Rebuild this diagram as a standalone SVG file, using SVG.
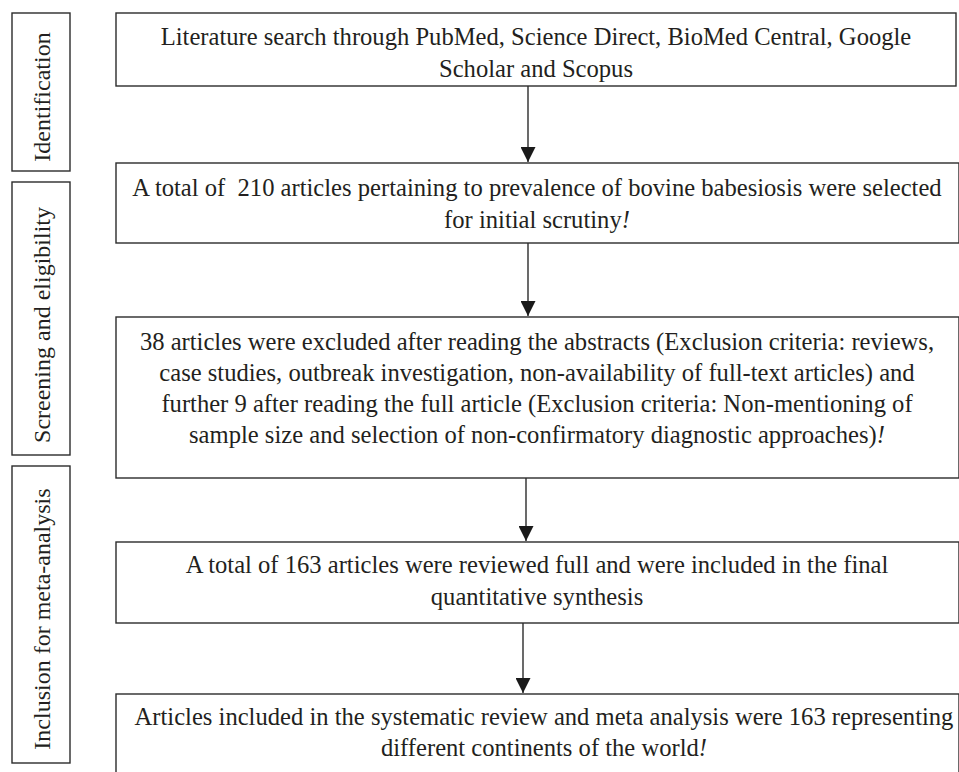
<svg xmlns="http://www.w3.org/2000/svg" width="959" height="772" viewBox="0 0 959 772">
<style>
.box{fill:#fff;stroke:#2b2b2b;stroke-width:1.4}
.t{font-family:"Liberation Serif","Times New Roman",serif;font-size:24.6px;fill:#231f20;text-anchor:middle}
.v{font-size:24px}
.c{stroke:#2b2b2b;stroke-width:1.4;fill:none}
.i{font-style:italic}
</style>
<defs>
<marker id="ah" markerWidth="16" markerHeight="15" refX="15" refY="7.5" orient="auto" markerUnits="userSpaceOnUse">
<path d="M0,0 L15,7.5 L0,15 Z" fill="#1a1a1a"/>
</marker>
</defs>
<rect width="959" height="772" fill="#fff"/>
<g id="stage-identification">
<rect class="box" x="12" y="13" width="58" height="158"/>
<text class="t v" transform="translate(50,97) rotate(-90)">Identification</text>
</g>
<g id="stage-screening">
<rect class="box" x="12" y="182" width="58" height="273"/>
<text class="t v" transform="translate(50,325) rotate(-90)">Screening and eligibility</text>
</g>
<g id="stage-inclusion">
<rect class="box" x="12" y="466" width="58" height="297"/>
<text class="t v" transform="translate(50,619) rotate(-90)">Inclusion for meta-analysis</text>
</g>
<g id="node-search">
<rect class="box" x="116" y="13" width="840" height="73"/>
<text class="t" x="536" y="45">Literature search through PubMed, Science Direct, BioMed Central, Google</text>
<text class="t" x="536" y="77">Scholar and Scopus</text>
</g>
<g id="node-selected">
<rect class="box" x="116" y="163" width="843" height="80"/>
<text class="t" x="537" y="196">A total of &#160;210 articles pertaining to prevalence of bovine babesiosis were selected</text>
<text class="t" x="537" y="228">for initial scrutiny<tspan class="i">!</tspan></text>
</g>
<g id="node-excluded">
<rect class="box" x="116" y="317" width="843" height="161"/>
<text class="t" x="537" y="350">38 articles were excluded after reading the abstracts (Exclusion criteria: reviews,</text>
<text class="t" x="537" y="381">case studies, outbreak investigation, non-availability of full-text articles) and</text>
<text class="t" x="537" y="412">further 9 after reading the full article (Exclusion criteria: Non-mentioning of</text>
<text class="t" x="537" y="443">sample size and selection of non-confirmatory diagnostic approaches)<tspan class="i">!</tspan></text>
</g>
<g id="node-reviewed">
<rect class="box" x="116" y="542" width="843" height="81"/>
<text class="t" x="537" y="573">A total of 163 articles were reviewed full and were included in the final</text>
<text class="t" x="537" y="605">quantitative synthesis</text>
</g>
<g id="node-included">
<rect class="box" x="116" y="694" width="843" height="90"/>
<text class="t" x="544" y="725">Articles included in the systematic review and meta analysis were 163 representing</text>
<text class="t" x="544" y="756">different continents of the world<tspan class="i">!</tspan></text>
</g>
<g id="connectors">
<line class="c" x1="528" y1="86" x2="528" y2="162" marker-end="url(#ah)"/>
<line class="c" x1="528" y1="243" x2="528" y2="316" marker-end="url(#ah)"/>
<line class="c" x1="526" y1="478" x2="526" y2="541" marker-end="url(#ah)"/>
<line class="c" x1="523" y1="623" x2="523" y2="693" marker-end="url(#ah)"/>
</g>
</svg>
